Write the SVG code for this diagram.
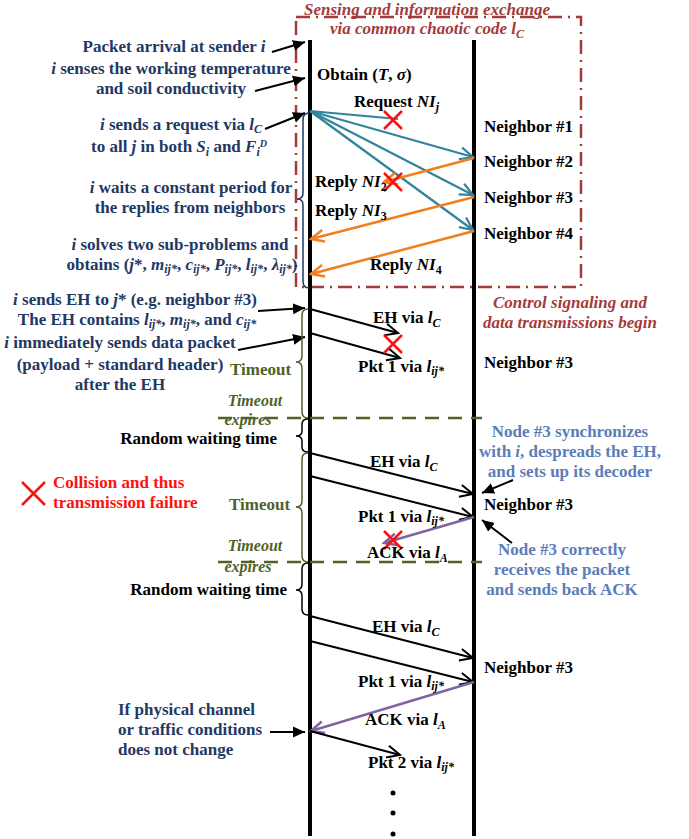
<svg xmlns="http://www.w3.org/2000/svg" width="689" height="839" viewBox="0 0 689 839">
<defs>
<style>
text{font-family:"Liberation Serif","Times New Roman",serif;font-weight:bold;font-size:17px}
.nv{fill:#1F3864}
.bk{fill:#000}
.dr{fill:#A33B3B;font-style:italic}
.lb{fill:#5B7DB8}
.ol{fill:#4F6228}
.rd{fill:#FF1010}
.it{font-style:italic}
.sb{font-size:12px}
.sp{font-size:10px}
.te{font-size:16px}
.mid{text-anchor:middle}
.end{text-anchor:end}
.life{stroke:#000;stroke-width:4}
.msg{stroke:#000;stroke-width:2;fill:none}
.ann{stroke:#000;stroke-width:2;fill:none}
.teal{stroke:#31849B;stroke-width:2.2;fill:none}
.org{stroke:#F07F1E;stroke-width:2.5;fill:none}
.pur{stroke:#8064A2;stroke-width:2.5;fill:none}
.x{stroke:#FF1010;stroke-width:2.5}
.gd{stroke:#4F6228;stroke-width:2.5;stroke-dasharray:14 9}
.brace{fill:none;stroke-width:1.5}
</style>
<marker id="tri" markerUnits="userSpaceOnUse" viewBox="-12 -6 13 12" refX="0" refY="0" markerWidth="13" markerHeight="12" orient="auto">
<path d="M-12,-5.5 L0,0 L-12,5.5 Z" fill="#000"/>
</marker>
<marker id="vb" markerUnits="userSpaceOnUse" viewBox="-15 -8 17 16" refX="0" refY="0" markerWidth="17" markerHeight="16" orient="auto">
<path d="M-13,-6 L0,0 L-13,6" fill="none" stroke="#000" stroke-width="2"/>
</marker>
<marker id="vt" markerUnits="userSpaceOnUse" viewBox="-15 -8 17 16" refX="0" refY="0" markerWidth="17" markerHeight="16" orient="auto">
<path d="M-13,-6 L0,0 L-13,6" fill="none" stroke="#31849B" stroke-width="2.2"/>
</marker>
<marker id="vo" markerUnits="userSpaceOnUse" viewBox="-15 -8 17 16" refX="0" refY="0" markerWidth="17" markerHeight="16" orient="auto">
<path d="M-13,-6 L0,0 L-13,6" fill="none" stroke="#F07F1E" stroke-width="2.5"/>
</marker>
<marker id="vp" markerUnits="userSpaceOnUse" viewBox="-15 -8 17 16" refX="0" refY="0" markerWidth="17" markerHeight="16" orient="auto">
<path d="M-13,-6 L0,0 L-13,6" fill="none" stroke="#8064A2" stroke-width="2.5"/>
</marker>
</defs>
<rect width="689" height="839" fill="#fff"/>

<!-- sensing phase frame -->
<g id="sensing-frame">
<path d="M296,17 L581,17 L581,287 L296,287 Z" fill="none" stroke="#A33B3B" stroke-width="2.5" stroke-dasharray="14 6 2 6"/>
<text class="dr mid" x="427" y="15">Sensing and information exchange</text>
<text class="dr mid" x="427" y="34">via common chaotic code <tspan>l</tspan><tspan class="sb" dy="4">C</tspan></text>
</g>

<!-- lifelines -->
<g id="sender-i"><line class="life" x1="310" y1="40" x2="310" y2="836"/></g>
<g id="neighbors"><line class="life" x1="474" y1="40" x2="474" y2="836"/></g>

<!-- timeout boundaries -->
<g id="timeout-lines">
<line class="gd" x1="218" y1="418" x2="482" y2="418"/>
<line class="gd" x1="218" y1="562" x2="482" y2="562"/>
</g>

<g id="connectors">
<!-- annotation arrows -->
<line class="ann" x1="272" y1="52" x2="305" y2="42" marker-end="url(#tri)"/>
<line class="ann" x1="255" y1="91" x2="305" y2="78" marker-end="url(#tri)"/>
<line class="ann" x1="265" y1="129" x2="305" y2="113" marker-end="url(#tri)"/>
<line class="ann" x1="258" y1="311" x2="305" y2="308" marker-end="url(#tri)"/>
<line class="ann" x1="238" y1="350" x2="305" y2="337" marker-end="url(#tri)"/>
<line class="ann" x1="270" y1="732" x2="305" y2="732" marker-end="url(#tri)"/>
<line class="ann" x1="513" y1="480" x2="482" y2="493" marker-end="url(#tri)"/>
<line class="ann" x1="512" y1="543" x2="482" y2="520" marker-end="url(#tri)"/>
<!-- requests -->
<line class="teal" x1="310" y1="111" x2="398" y2="119"/>
<line class="teal" x1="310" y1="111" x2="473" y2="157" marker-end="url(#vt)"/>
<line class="teal" x1="310" y1="111" x2="473" y2="195" marker-end="url(#vt)"/>
<line class="teal" x1="310" y1="111" x2="473" y2="230" marker-end="url(#vt)"/>
<!-- replies -->
<line class="org" x1="474" y1="158" x2="384" y2="182" marker-end="url(#vo)"/>
<line class="org" x1="474" y1="197" x2="311" y2="239" marker-end="url(#vo)"/>
<line class="org" x1="474" y1="231" x2="311" y2="274" marker-end="url(#vo)"/>
<!-- attempt 1 -->
<line class="msg" x1="310" y1="309" x2="398" y2="333" marker-end="url(#vb)"/>
<line class="msg" x1="310" y1="333" x2="400" y2="358" marker-end="url(#vb)"/>
<!-- attempt 2 -->
<line class="msg" x1="310" y1="453" x2="473" y2="494" marker-end="url(#vb)"/>
<line class="msg" x1="310" y1="476" x2="473" y2="517" marker-end="url(#vb)"/>
<line class="pur" x1="474" y1="517" x2="384" y2="543" marker-end="url(#vp)"/>
<!-- attempt 3 -->
<line class="msg" x1="310" y1="616" x2="473" y2="658" marker-end="url(#vb)"/>
<line class="msg" x1="310" y1="641" x2="473" y2="682" marker-end="url(#vb)"/>
<line class="pur" x1="474" y1="682" x2="311" y2="731" marker-end="url(#vp)"/>
<line class="msg" x1="310" y1="731" x2="400" y2="755" marker-end="url(#vb)"/>
</g>

<!-- braces -->
<g id="braces">
<path class="brace" stroke="#1F3864" d="M309,113 Q303,113 303,120 L303,193 Q303,199 297,199 Q303,199 303,205 L303,281 Q303,288 309,288"/>
<path class="brace" stroke="#4F6228" d="M308,309 Q302,309 302,315 L302,356 Q302,362 296,362 Q302,362 302,368 L302,412 Q302,418 308,418"/>
<path class="brace" stroke="#000" d="M308,419 Q302,419 302,424 L302,431 Q302,436 296,436 Q302,436 302,441 L302,447 Q302,452 308,452"/>
<path class="brace" stroke="#4F6228" d="M308,453 Q302,453 302,459 L302,501 Q302,507 296,507 Q302,507 302,513 L302,556 Q302,562 308,562"/>
<path class="brace" stroke="#000" d="M308,563 Q302,563 302,569 L302,584 Q302,590 296,590 Q302,590 302,596 L302,609 Q302,615 308,615"/>
</g>

<!-- failure marks -->
<g id="collisions">
<path class="x" d="M384,111 L402,129 M402,111 L384,129"/>
<path class="x" d="M384,173 L402,191 M402,173 L384,191"/>
<path class="x" d="M384,335 L402,353 M402,335 L384,353"/>
<path class="x" d="M384,531 L402,549 M402,531 L384,549"/>
</g>

<!-- sender annotations -->
<g id="sender-notes">
<text class="nv mid" x="174" y="52">Packet arrival at sender <tspan class="it">i</tspan></text>
<text class="nv mid" x="171" y="74"><tspan class="it">i</tspan> senses the working temperature</text>
<text class="nv mid" x="171" y="94">and soil conductivity</text>
<text class="nv mid" x="181" y="130"><tspan class="it">i</tspan> sends a request via <tspan class="it">l</tspan><tspan class="sb it" dy="3">C</tspan></text>
<text class="nv mid" x="179" y="152">to all <tspan class="it">j</tspan> in both <tspan class="it">S</tspan><tspan class="sb it" dy="4">i</tspan><tspan dy="-4"> and </tspan><tspan class="it">F</tspan><tspan class="sb it" dy="4">i</tspan><tspan class="sp it" dy="-9">D</tspan></text>
<text class="nv mid" x="191" y="193"><tspan class="it">i</tspan> waits a constant period for</text>
<text class="nv mid" x="190" y="213">the replies from neighbors</text>
<text class="nv mid" x="180" y="250"><tspan class="it">i</tspan> solves two sub-problems and</text>
<text class="nv mid" x="182" y="270">obtains (<tspan class="it">j</tspan>*, <tspan class="it">m</tspan><tspan class="sb it" dy="3">ij*</tspan><tspan dy="-3">, </tspan><tspan class="it">c</tspan><tspan class="sb it" dy="3">ij*</tspan><tspan dy="-3">, </tspan><tspan class="it">P</tspan><tspan class="sb it" dy="3">ij*</tspan><tspan dy="-3">, </tspan><tspan class="it">l</tspan><tspan class="sb it" dy="3">ij*</tspan><tspan dy="-3">, </tspan><tspan class="it">λ</tspan><tspan class="sb it" dy="3">ij*</tspan><tspan dy="-3">)</tspan></text>
<text class="nv mid" x="135" y="305"><tspan class="it">i</tspan> sends EH to <tspan class="it">j</tspan>* (e.g. neighbor #3)</text>
<text class="nv mid" x="137" y="325">The EH contains <tspan class="it">l</tspan><tspan class="sb it" dy="3">ij*</tspan><tspan dy="-3">, </tspan><tspan class="it">m</tspan><tspan class="sb it" dy="3">ij*</tspan><tspan dy="-3">, and </tspan><tspan class="it">c</tspan><tspan class="sb it" dy="3">ij*</tspan></text>
<text class="nv mid" x="120" y="348"><tspan class="it">i</tspan> immediately sends data packet</text>
<text class="nv mid" x="120" y="370">(payload + standard header)</text>
<text class="nv mid" x="120" y="390">after the EH</text>
<text class="nv" x="118" y="715">If physical channel</text>
<text class="nv" x="118" y="735">or traffic conditions</text>
<text class="nv" x="118" y="755">does not change</text>
</g>

<g id="timing-notes">
<text class="ol" x="230" y="375">Timeout</text>
<text class="ol it mid te" x="255" y="406">Timeout</text>
<text class="ol it mid te" x="248" y="425">expires</text>
<text class="bk end" x="277" y="444">Random waiting time</text>
<text class="ol" x="229" y="510">Timeout</text>
<text class="ol it mid te" x="255" y="551">Timeout</text>
<text class="ol it mid te" x="248" y="572">expires</text>
<text class="bk end" x="287" y="595">Random waiting time</text>
</g>

<g id="legend-collision">
<path class="x" d="M22,482 L45,505 M45,482 L22,505"/>
<text class="rd" x="53" y="488">Collision and thus</text>
<text class="rd" x="53" y="508">transmission failure</text>
</g>

<!-- message labels -->
<g id="message-labels">
<text class="bk" x="317" y="80">Obtain (<tspan class="it">T</tspan>, <tspan class="it">σ</tspan>)</text>
<text class="bk" x="354" y="107">Request <tspan class="it">NI</tspan><tspan class="sb it" dy="4">j</tspan></text>
<text class="bk" x="315" y="187">Reply <tspan class="it">NI</tspan><tspan class="sb" dy="4">2</tspan></text>
<text class="bk" x="315" y="216">Reply <tspan class="it">NI</tspan><tspan class="sb" dy="4">3</tspan></text>
<text class="bk" x="370" y="270">Reply <tspan class="it">NI</tspan><tspan class="sb" dy="4">4</tspan></text>
<text class="bk" x="373" y="323">EH via <tspan class="it">l</tspan><tspan class="sb it" dy="4">C</tspan></text>
<text class="bk" x="358" y="372">Pkt 1 via <tspan class="it">l</tspan><tspan class="sb it" dy="3">ij*</tspan></text>
<text class="bk" x="370" y="467">EH via <tspan class="it">l</tspan><tspan class="sb it" dy="4">C</tspan></text>
<text class="bk" x="358" y="522">Pkt 1 via <tspan class="it">l</tspan><tspan class="sb it" dy="3">ij*</tspan></text>
<text class="bk" x="367" y="558">ACK via <tspan class="it">l</tspan><tspan class="sb it" dy="4">A</tspan></text>
<text class="bk" x="372" y="632">EH via <tspan class="it">l</tspan><tspan class="sb it" dy="4">C</tspan></text>
<text class="bk" x="358" y="687">Pkt 1 via <tspan class="it">l</tspan><tspan class="sb it" dy="3">ij*</tspan></text>
<text class="bk" x="365" y="725">ACK via <tspan class="it">l</tspan><tspan class="sb it" dy="4">A</tspan></text>
<text class="bk" x="368" y="768">Pkt 2 via <tspan class="it">l</tspan><tspan class="sb it" dy="3">ij*</tspan></text>
<circle cx="393" cy="793" r="2.5"/>
<circle cx="393" cy="813" r="2.5"/>
<circle cx="393" cy="834" r="2.5"/>
</g>

<!-- neighbor labels -->
<g id="neighbor-labels">
<text class="bk" x="484" y="132">Neighbor #1</text>
<text class="bk" x="484" y="167">Neighbor #2</text>
<text class="bk" x="484" y="203">Neighbor #3</text>
<text class="bk" x="484" y="239">Neighbor #4</text>
<text class="bk" x="484" y="368">Neighbor #3</text>
<text class="bk" x="484" y="510">Neighbor #3</text>
<text class="bk" x="484" y="673">Neighbor #3</text>
</g>

<g id="receiver-notes">
<text class="dr mid" x="570" y="308">Control signaling and</text>
<text class="dr mid" x="570" y="328">data transmissions begin</text>
<text class="lb mid" x="570" y="437">Node #3 synchronizes</text>
<text class="lb mid" x="570" y="457">with <tspan class="it">i</tspan>, despreads the EH,</text>
<text class="lb mid" x="570" y="477">and sets up its decoder</text>
<text class="lb mid" x="562" y="555">Node #3 correctly</text>
<text class="lb mid" x="562" y="575">receives the packet</text>
<text class="lb mid" x="562" y="595">and sends back ACK</text>
</g>
</svg>
